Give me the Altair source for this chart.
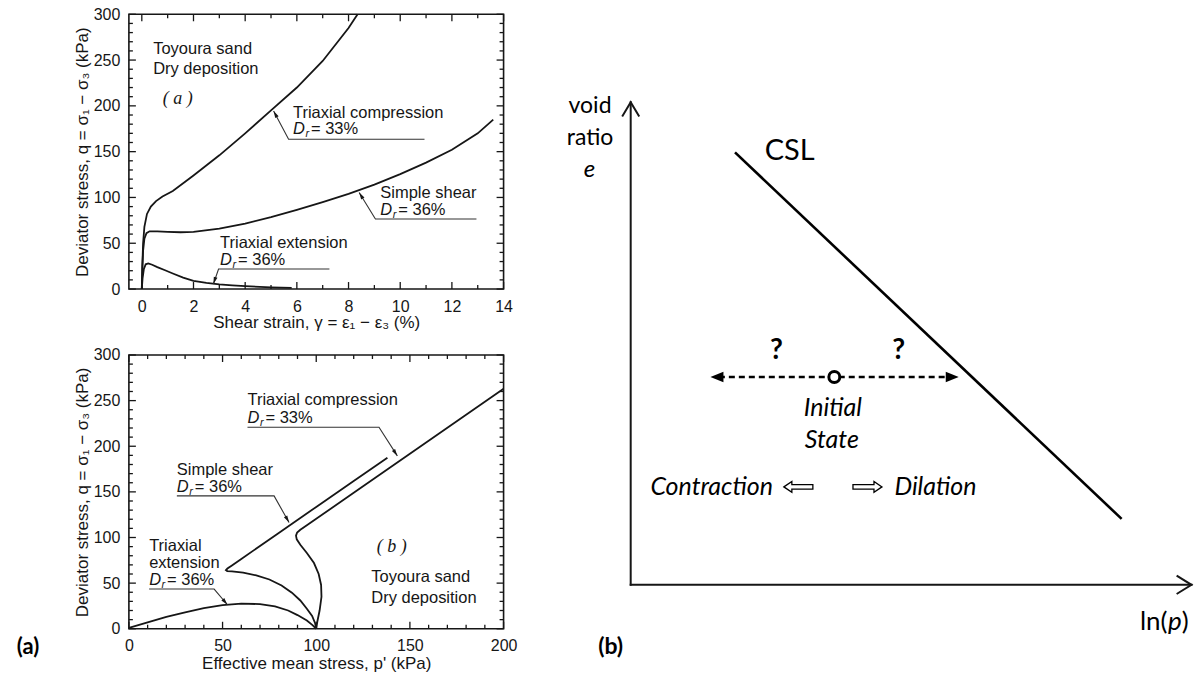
import altair as alt
import pandas as pd

SANS = "Liberation Sans"
SERIF = "Liberation Serif"
CAL = "Lato"
INK = "#161616"

# ---------------- (a) upper plot: deviator stress vs shear strain ----------------
tc_gamma = [0, 0.02, 0.05, 0.1, 0.2, 0.35, 0.55, 0.8, 1.2, 2, 3, 4, 5, 6, 7, 8, 8.35]
tc_q_gamma = [0, 25, 50, 68, 82, 90, 96, 101, 107, 124, 146, 170, 195, 220, 249, 285, 300]
ss_gamma = [0, 0.02, 0.05, 0.1, 0.18, 0.3, 0.6, 1, 1.5, 2, 3, 4, 5, 6, 7, 8, 9, 10, 11, 12, 13, 13.6]
ss_q_gamma = [0, 22, 42, 55, 61, 63, 63, 62.5, 62, 62.5, 66, 71.5, 78.5, 86.5, 95, 104, 114,
              125.5, 138, 152, 170, 185]
te_gamma = [0, 0.03, 0.08, 0.15, 0.25, 0.4, 0.6, 0.9, 1.2, 1.6, 2, 2.5, 3, 3.5, 4, 5, 5.8]
te_q_gamma = [0, 12, 22, 27, 28, 26.5, 24, 20.5, 17, 12.5, 9, 6.8, 5.2, 4, 3.1, 1.8, 1.2]

# ---------------- (a) lower plot: deviator stress vs effective mean stress ----------------
tc_p = [100, 100.6, 101.8, 102.8, 102.6, 101.3, 98.8, 95, 91.5, 89.6, 89.2, 89.8, 91.5, 95,
        100, 120, 140, 160, 180, 200]
tc_q_p = [0, 8, 20, 35, 48, 60, 72, 83, 92, 98, 102, 105.5, 108.5, 113.5, 120.5, 149, 177.5,
          206, 234.5, 263]
ss_p = [100, 99.4, 97.8, 95, 91.5, 87, 81.5, 75, 68, 61, 55, 52.5, 51.8, 52.6, 55, 60, 80,
        100, 120, 138]
ss_q_p = [0, 6, 14, 22, 31, 39.5, 47.5, 54, 58.5, 61.5, 62.8, 63.2, 64.3, 66, 69.4, 76.5, 105,
          133.5, 162, 187.5]
te_p = [0, 10, 20, 30, 40, 50, 60, 70, 78, 85, 90, 95, 98, 100]
te_q_p = [1, 7, 13, 18, 22.5, 26, 27.5, 27, 24.5, 20, 15, 9, 4, 0]

# tick values
gamma_major = [0, 2, 4, 6, 8, 10, 12, 14]
gamma_minor = [1, 3, 5, 7, 9, 11, 13]
p_major = [0, 50, 100, 150, 200]
p_minor = [v for v in range(10, 200, 10) if v % 50]
q_major = [0, 50, 100, 150, 200, 250, 300]
q_minor = [v for v in range(10, 300, 10) if v % 50]

# annotation text and leader lines (upper plot)
top_labels = ["Toyoura sand", "Dry deposition", "Triaxial compression", "Simple shear",
              "Triaxial extension"]
top_label_x = [0.44, 0.44, 5.85, 9.23, 3.03]
top_label_y = [262.6, 240, 192.6, 105.2, 50.7]
top_dr_text = ["= 33%", "= 36%", "= 36%"]
top_dr_x = [5.85, 9.23, 3.03]
top_dr_y = [174.4, 86.1, 31.6]
top_leader_x = [[5.10, 5.68, 10.94], [8.41, 9.04, 12.95], [2.77, 2.97, 7.26]]
top_leader_y = [[194.5, 163.6, 163.6], [105.5, 76.4, 76.4], [5.5, 21.8, 21.8]]
top_head_angle = [332, 328.6, 198.4]

# annotation text and leader lines (lower plot)
bot_labels = ["Triaxial compression", "Simple shear", "Triaxial", "extension",
              "Toyoura sand", "Dry deposition"]
bot_label_x = [63.3, 25.6, 10.8, 10.8, 129.4, 129.4]
bot_label_y = [250.5, 173.8, 90.4, 71.8, 56.5, 33.6]
bot_dr_text = ["= 33%", "= 36%", "= 36%"]
bot_dr_x = [63.3, 25.6, 10.8]
bot_dr_y = [231.4, 154.8, 53.2]
bot_leader_x = [[143.3, 133.5, 63.3], [85.5, 77.5, 25.6], [52.6, 45.5, 10.8]]
bot_leader_y = [[189.4, 220.8, 220.8], [116.4, 145.6, 145.6], [26.3, 43.5, 43.5]]
bot_head_angle = [147.3, 150.7, 139.5]

HEAD = "M0,0L-0.7,2.6L0.7,2.6Z"


def polyline_frame(xs_list, ys_list):
    rows = []
    for g, (xs, ys) in enumerate(zip(xs_list, ys_list)):
        for i, (x, y) in enumerate(zip(xs, ys)):
            rows.append({"g": g, "i": i, "x": x, "y": y})
    return pd.DataFrame(rows)


def stress_plot(W, H, X, Y, curves, xmaj, xmin, ymaj, ymin, labels, lx, ly,
                dr_text, dr_x, dr_y, lead_x, lead_y, head_angle, tag, tag_x, tag_y, extra=None):
    layers = []
    # test curves
    cdf = polyline_frame([c[0] for c in curves], [c[1] for c in curves])
    layers.append(alt.Chart(cdf).mark_line(color=INK, strokeWidth=1.8).encode(
        x=X, y=Y, detail="g:N", order="i:Q"))
    # inward ticks on all four sides
    for vals, L in ((xmaj, 7), (xmin, 4)):
        d = pd.DataFrame({"x": vals})
        b = alt.Chart(d).mark_rule(color=INK, strokeWidth=1.3)
        layers.append(b.encode(x=X, y=alt.value(H), y2=alt.value(H - L)))
        layers.append(b.encode(x=X, y=alt.value(0), y2=alt.value(L)))
    for vals, L in ((ymaj, 7), (ymin, 4)):
        d = pd.DataFrame({"y": vals})
        b = alt.Chart(d).mark_rule(color=INK, strokeWidth=1.3)
        layers.append(b.encode(y=Y, x=alt.value(0), x2=alt.value(L)))
        layers.append(b.encode(y=Y, x=alt.value(W), x2=alt.value(W - L)))
    # leader lines and arrow heads
    ldf = polyline_frame(lead_x, lead_y)
    layers.append(alt.Chart(ldf).mark_line(color="#333", strokeWidth=1.1).encode(
        x=X, y=Y, detail="g:N", order="i:Q"))
    hdf = pd.DataFrame({"x": [xs[0] for xs in lead_x], "y": [ys[0] for ys in lead_y],
                        "a": head_angle})
    layers.append(alt.Chart(hdf).mark_point(shape=HEAD, filled=True, color=INK, size=30,
                                            opacity=1).encode(
        x=X, y=Y, angle=alt.Angle("a:Q", scale=None)))
    # labels
    tdf = pd.DataFrame({"x": lx, "y": ly, "t": labels})
    layers.append(alt.Chart(tdf).mark_text(font=SANS, fontSize=16.5, align="left",
                                           baseline="middle", color=INK).encode(
        x=X, y=Y, text="t:N"))
    ddf = pd.DataFrame({"x": dr_x, "y": dr_y, "t": dr_text})
    layers.append(alt.Chart(ddf).mark_text(font=SANS, fontSize=16.5, fontStyle="italic",
                                           align="left", baseline="middle", color=INK,
                                           text="D").encode(x=X, y=Y))
    layers.append(alt.Chart(ddf).mark_text(font=SANS, fontSize=11, fontStyle="italic",
                                           align="left", baseline="middle", color=INK,
                                           text="r", dx=12.5, dy=5).encode(x=X, y=Y))
    layers.append(alt.Chart(ddf).mark_text(font=SANS, fontSize=16.5, align="left",
                                           baseline="middle", color=INK, dx=18).encode(
        x=X, y=Y, text="t:N"))
    # plot tag in serif
    gdf = pd.DataFrame({"x": [tag_x], "y": [tag_y], "t": [tag]})
    layers.append(alt.Chart(gdf).mark_text(font=SERIF, fontSize=18, fontStyle="italic",
                                           align="center", baseline="middle", color=INK).encode(
        x=X, y=Y, text="t:N"))
    if extra is not None:
        layers.append(extra)
    return alt.layer(*layers).properties(
        width=W, height=H, view=alt.ViewBackground(stroke=INK, strokeWidth=1.6))


axis_common = dict(ticks=False, domain=False, grid=False, labelFont=SANS, labelFontSize=16,
                   titleFont=SANS, titleFontSize=17, titleFontWeight="normal",
                   labelColor=INK, titleColor=INK, format="d", labelFlush=False)

W1, H1 = 375, 275
X1 = alt.X("x:Q", scale=alt.Scale(domain=[-0.5, 14], nice=False, zero=False),
           axis=alt.Axis(values=gamma_major, title="Shear strain,  γ = ε₁ − ε₃  (%)",
                         labelPadding=9, titlePadding=0, **axis_common))
Y1 = alt.Y("y:Q", scale=alt.Scale(domain=[0, 300], nice=False),
           axis=alt.Axis(values=q_major, title="Deviator stress, q = σ₁ − σ₃  (kPa)",
                         labelPadding=9, titlePadding=2, **axis_common))

top = stress_plot(
    W1, H1, X1, Y1,
    [(tc_gamma, tc_q_gamma), (ss_gamma, ss_q_gamma), (te_gamma, te_q_gamma)],
    gamma_major, gamma_minor, q_major, q_minor,
    top_labels, top_label_x, top_label_y, top_dr_text, top_dr_x, top_dr_y,
    top_leader_x, top_leader_y, top_head_angle, "( a )", 1.39, 207)

W2, H2 = 375, 274
X2 = alt.X("x:Q", scale=alt.Scale(domain=[0, 200], nice=False, zero=False),
           axis=alt.Axis(values=p_major, title="Effective mean stress,  p' (kPa)",
                         labelPadding=9, titlePadding=2, **axis_common))
Y2 = alt.Y("y:Q", scale=alt.Scale(domain=[0, 300], nice=False),
           axis=alt.Axis(values=q_major, title="Deviator stress, q = σ₁ − σ₃  (kPa)",
                         labelPadding=9, titlePadding=2, **axis_common))

panel_a_tag = alt.Chart(pd.DataFrame({"t": ["(a)"]})).mark_text(
    font=CAL, fontSize=22, fontWeight="bold", align="center", baseline="middle",
    color="black").encode(text="t:N", x=alt.value(-101), y=alt.value(292))

bottom = stress_plot(
    W2, H2, X2, Y2,
    [(tc_p, tc_q_p), (ss_p, ss_q_p), (te_p, te_q_p)],
    p_major, p_minor, q_major, q_minor,
    bot_labels, bot_label_x, bot_label_y, bot_dr_text, bot_dr_x, bot_dr_y,
    bot_leader_x, bot_leader_y, bot_head_angle, "( b )", 140.3, 90.1, extra=panel_a_tag)

# ---------------- (b) schematic: void ratio vs ln(p) ----------------
axis_lnp = [0, 1]
axis_e = [0, 1]
v_head_lnp = [-0.0143, 0, 0.0143]
v_head_e = [0.972, 1, 0.972]
h_head_lnp = [0.975, 1, 0.975]
h_head_e = [0.018, 0, -0.018]
csl_lnp = [0.186, 0.8754]
csl_e = [0.896, 0.1366]
init_lnp = 0.3631
init_e = 0.4306
path_lnp = [0.1422, 0.5849]   # ends of the dashed arrows

XR = alt.X("x:Q", scale=alt.Scale(domain=[-0.126, 1.0107], nice=False, zero=False), axis=None)
YR = alt.Y("y:Q", scale=alt.Scale(domain=[-0.1739, 1.1822], nice=False, zero=False), axis=None)

frame_df = polyline_frame([[0, 0], axis_lnp, v_head_lnp, h_head_lnp],
                          [axis_e, [0, 0], v_head_e, h_head_e])
axes_r = alt.Chart(frame_df).mark_line(color=INK, strokeWidth=2, strokeCap="square").encode(
    x=XR, y=YR, detail="g:N", order="i:Q")

csl = alt.Chart(pd.DataFrame({"x": csl_lnp, "y": csl_e})).mark_line(
    color="black", strokeWidth=2.6).encode(x=XR, y=YR)

dash = alt.Chart(pd.DataFrame({"x": [path_lnp[0] + 0.015, path_lnp[1] - 0.015],
                               "y": [init_e, init_e]})).mark_line(
    color="black", strokeWidth=2.4, strokeDash=[6, 4]).encode(x=XR, y=YR)

heads_r = alt.Chart(pd.DataFrame({"x": path_lnp, "y": [init_e, init_e], "a": [270, 90]})).mark_point(
    shape="M0,0L-0.8,2L0.8,2Z", filled=True, color="black", size=169, opacity=1).encode(
    x=XR, y=YR, angle=alt.Angle("a:Q", scale=None))

state = alt.Chart(pd.DataFrame({"x": [init_lnp], "y": [init_e]})).mark_point(
    shape="circle", filled=True, fill="white", stroke="black", strokeWidth=3, size=120,
    opacity=1).encode(x=XR, y=YR)

BLOCK = "M-1,0L-0.45,-0.37L-0.45,-0.15L1,-0.15L1,0.15L-0.45,0.15L-0.45,0.37Z"
block_arrows = alt.Chart(pd.DataFrame({"x": [0.299, 0.4222], "y": [0.2029, 0.2029],
                                       "a": [0, 180]})).mark_point(
    shape=BLOCK, filled=True, fill="white", stroke="black", strokeWidth=1.3, size=841,
    opacity=1).encode(x=XR, y=YR, angle=alt.Angle("a:Q", scale=None))


def rtext(df_rows, **kw):
    d = pd.DataFrame(df_rows, columns=["x", "y", "t"])
    style = dict(font=CAL, fontSize=22, baseline="middle", color="black")
    style.update(kw)
    return alt.Chart(d).mark_text(**style).encode(x=XR, y=YR, text="t:N")


texts_r = [
    rtext([(0.239, 0.899, "CSL")], fontSize=29, align="left"),
    rtext([(0.260, 0.485, "?"), (0.478, 0.485, "?")], fontSize=28, fontWeight="bold",
          align="center"),
    rtext([(0.3604, 0.3665, "Initial"), (0.3586, 0.3008, "State")], fontSize=25,
          fontStyle="italic", align="center"),
    rtext([(0.2537, 0.2029, "Contraction")], fontSize=25, fontStyle="italic", align="right"),
    rtext([(0.4703, 0.2029, "Dilation")], fontSize=25, fontStyle="italic", align="left"),
    rtext([(-0.0725, 0.9917, "void"), (-0.0725, 0.9255, "ratio")], fontSize=23, align="center"),
    rtext([(-0.0734, 0.859, "e")], fontSize=24, fontStyle="italic", align="center"),
    rtext([(0.908, -0.0766, "ln(")], fontSize=26, align="left"),
    rtext([(0.908, -0.0766, "p")], fontSize=26, fontStyle="italic", align="left", dx=28),
    rtext([(0.908, -0.0766, ")")], fontSize=26, align="left", dx=42),
    rtext([(-0.058, -0.128, "(b)")], fontSize=23, fontWeight="bold", align="left"),
]

right = alt.layer(axes_r, csl, dash, heads_r, state, block_arrows, *texts_r).properties(
    width=638, height=655, view=alt.ViewBackground(stroke="transparent"))

left = alt.vconcat(top, bottom, spacing=15)
chart = alt.hconcat(left, right, spacing=40.5).properties(
    padding={"left": 15, "top": 5, "right": 0, "bottom": 0}
).configure_view(stroke="transparent")

chart.save("out.html", embed_options={"renderer": "svg", "actions": False})
